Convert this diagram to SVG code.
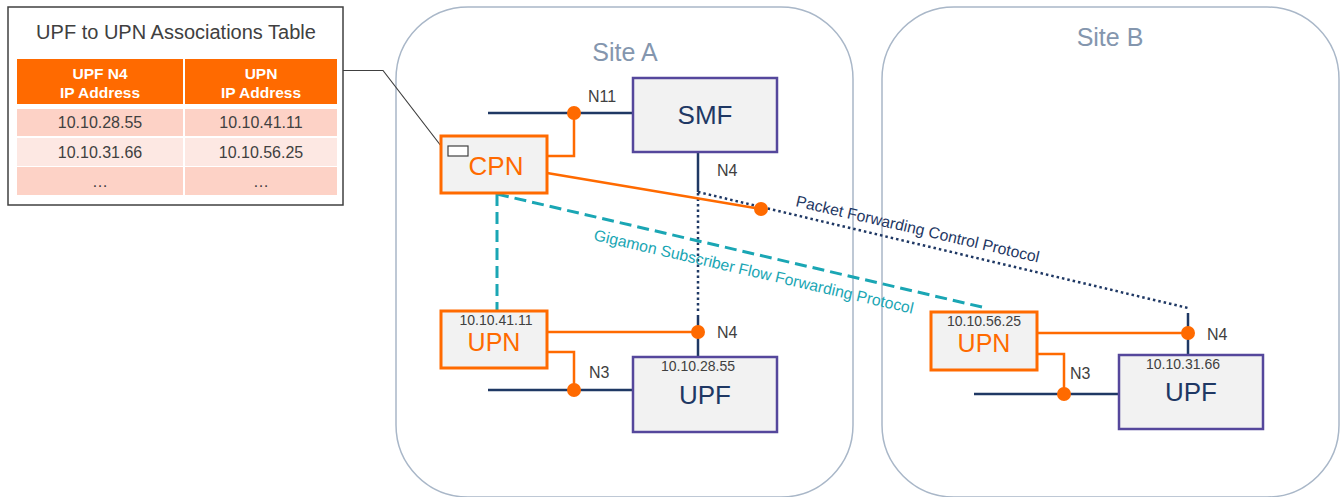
<svg xmlns="http://www.w3.org/2000/svg" width="1341" height="497" viewBox="0 0 1341 497">
<style>
text{font-family:"Liberation Sans",Arial,sans-serif}
.site{fill:#fff;stroke:#A9B7C8;stroke-width:1.5}
.sitet{font-size:25px;fill:#8496AE;text-anchor:middle}
.nf{fill:#F2F2F2;stroke:#55479C;stroke-width:2.5}
.on{fill:#F2F2F2;stroke:#FF6A00;stroke-width:3}
.big{font-size:26px;text-anchor:middle}
.upn{font-size:25px;text-anchor:middle}
.navyt{fill:#1F3864}
.orgt{fill:#FF6A00}
.ip{font-size:14px;fill:#404040;text-anchor:middle}
.lbl{font-size:16px;fill:#404040}
.navy{stroke:#1F3864;stroke-width:2.5;fill:none}
.org{stroke:#FF6A00;stroke-width:2.5;fill:none}
.dot{fill:#FF6A00}
.dots{stroke:#1F3864;stroke-width:2.5;stroke-dasharray:2.5 3;fill:none}
.dash{stroke:#1AA6B4;stroke-width:3;stroke-dasharray:12 6;fill:none}
.th{fill:#FF6A00}
.tht{font-size:15.5px;font-weight:bold;fill:#fff;text-anchor:middle}
.r1{fill:#FDD2C6}
.r2{fill:#FDE8E3}
.td{font-size:16px;fill:#404040;text-anchor:middle}
</style>

<g id="siteA">
<rect class="site" x="396" y="7" width="457" height="490" rx="72"/>
<text class="sitet" x="625" y="61">Site A</text>
</g>
<g id="siteB">
<rect class="site" x="882" y="7" width="457" height="490" rx="72"/>
<text class="sitet" x="1110" y="46">Site B</text>
</g>

<g id="table">
<rect x="8" y="7" width="335" height="198" fill="#fff" stroke="#404040" stroke-width="1.5"/>
<text x="176" y="39" font-size="20" fill="#404040" text-anchor="middle">UPF to UPN Associations Table</text>
<rect class="th" x="17" y="59" width="166" height="45"/>
<rect class="th" x="185" y="59" width="152" height="45"/>
<text class="tht" x="100" y="79">UPF N4</text>
<text class="tht" x="100" y="98">IP Address</text>
<text class="tht" x="261" y="79">UPN</text>
<text class="tht" x="261" y="98">IP Address</text>
<rect class="r1" x="17" y="109" width="166" height="27"/>
<rect class="r1" x="185" y="109" width="152" height="27"/>
<rect class="r2" x="17" y="138" width="166" height="28"/>
<rect class="r2" x="185" y="138" width="152" height="28"/>
<rect class="r1" x="17" y="167" width="166" height="28"/>
<rect class="r1" x="185" y="167" width="152" height="28"/>
<text class="td" x="100" y="128">10.10.28.55</text>
<text class="td" x="261" y="128">10.10.41.11</text>
<text class="td" x="100" y="158">10.10.31.66</text>
<text class="td" x="261" y="158">10.10.56.25</text>
<text class="td" x="100" y="187">…</text>
<text class="td" x="261" y="187">…</text>
</g>

<g id="connectors">
<polyline points="343,70.5 383,70.5 448,155" fill="none" stroke="#404040" stroke-width="1.2"/>
<!-- N11 -->
<line class="navy" x1="488" y1="113" x2="633" y2="113"/>
<polyline class="org" points="574,113 574,156 547,156"/>
<circle class="dot" cx="574" cy="113" r="7"/>
<text class="lbl" x="588" y="102">N11</text>
<!-- SMF N4 -->
<line class="navy" x1="698" y1="152" x2="698" y2="192"/>
<text class="lbl" x="717" y="176">N4</text>
<line class="dots" x1="698" y1="193" x2="698" y2="313"/>
<line class="dots" x1="698" y1="192" x2="1188" y2="308"/>
<text x="795" y="206" font-size="15.8" fill="#1F3864" transform="rotate(13.1 795 206)">Packet Forwarding Control Protocol</text>
<!-- CPN to dot -->
<line class="org" x1="547" y1="173" x2="761" y2="209"/>
<circle class="dot" cx="761" cy="209" r="7"/>
<!-- Gigamon -->
<line class="dash" x1="497" y1="194" x2="497" y2="310"/>
<line class="dash" x1="497" y1="194" x2="986" y2="308"/>
<text x="593" y="240" font-size="15.8" fill="#1AA6B4" transform="rotate(13 593 240)">Gigamon Subscriber Flow Forwarding Protocol</text>
<!-- Site A UPF N4 / N3 -->
<line class="navy" x1="698" y1="315" x2="698" y2="357"/>
<line class="org" x1="547" y1="332" x2="698" y2="332"/>
<circle class="dot" cx="698" cy="332" r="7"/>
<text class="lbl" x="717" y="338">N4</text>
<line class="navy" x1="488" y1="390" x2="633" y2="390"/>
<polyline class="org" points="547,352 574,352 574,390"/>
<circle class="dot" cx="574" cy="390" r="7"/>
<text class="lbl" x="589" y="378">N3</text>
<!-- Site B -->
<line class="navy" x1="1188" y1="313" x2="1188" y2="355"/>
<line class="org" x1="1037" y1="333" x2="1188" y2="333"/>
<circle class="dot" cx="1188" cy="333" r="7"/>
<text class="lbl" x="1207" y="340">N4</text>
<line class="navy" x1="974" y1="394" x2="1119" y2="394"/>
<polyline class="org" points="1037,354 1064,354 1064,394"/>
<circle class="dot" cx="1064" cy="394" r="7"/>
<text class="lbl" x="1070" y="379">N3</text>
</g>

<g id="smf">
<rect class="nf" x="633" y="78" width="144" height="74"/>
<text class="big navyt" x="705" y="124">SMF</text>
</g>
<g id="cpn">
<rect class="on" x="441" y="136" width="106" height="57"/>
<text class="big orgt" x="496" y="175">CPN</text>
<rect x="448" y="146" width="20" height="10" fill="#fff" stroke="#404040" stroke-width="1.2"/>
</g>
<g id="upnA">
<rect class="on" x="441" y="311" width="106" height="57"/>
<text class="ip" x="496" y="325">10.10.41.11</text>
<text class="upn orgt" x="494" y="351">UPN</text>
</g>
<g id="upfA">
<rect class="nf" x="633" y="357" width="144" height="75"/>
<text class="ip" x="698" y="371">10.10.28.55</text>
<text class="big navyt" x="705" y="404">UPF</text>
</g>
<g id="upnB">
<rect class="on" x="931" y="312" width="106" height="58"/>
<text class="ip" x="984" y="326">10.10.56.25</text>
<text class="upn orgt" x="984" y="352">UPN</text>
</g>
<g id="upfB">
<rect class="nf" x="1119" y="355" width="144" height="74"/>
<text class="ip" x="1183" y="369">10.10.31.66</text>
<text class="big navyt" x="1191" y="401">UPF</text>
</g>
</svg>
